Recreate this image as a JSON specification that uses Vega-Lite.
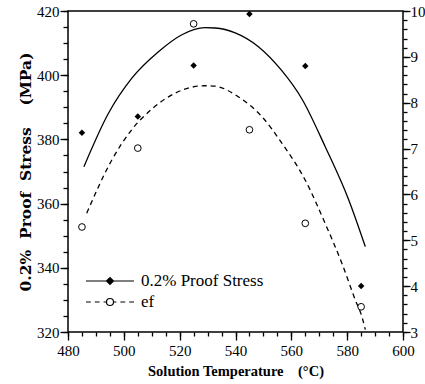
{
  "$schema": "https://vega.github.io/schema/vega-lite/v6.json",
  "width": 335,
  "height": 321,
  "autosize": {"type": "none"},
  "padding": {"left": 68, "top": 11, "right": 22, "bottom": 52},
  "background": "white",
  "config": {
    "view": {"stroke": "black", "strokeWidth": 1.5},
    "axis": {
      "grid": false,
      "domain": false,
      "ticks": true,
      "tickColor": "black",
      "tickWidth": 1.3,
      "labelColor": "black",
      "labelFont": "Liberation Serif",
      "labelFontSize": 15,
      "titleColor": "black",
      "titleFont": "Liberation Serif",
      "titleFontWeight": "bold"
    }
  },
  "datasets": {
    "stress_pts": [
      {"T": 485, "S": 382.1, "series": "0.2% Proof Stress"},
      {"T": 505, "S": 387.1, "series": "0.2% Proof Stress"},
      {"T": 525, "S": 403.0, "series": "0.2% Proof Stress"},
      {"T": 545, "S": 419.1, "series": "0.2% Proof Stress"},
      {"T": 565, "S": 402.9, "series": "0.2% Proof Stress"},
      {"T": 585, "S": 334.3, "series": "0.2% Proof Stress"}
    ],
    "ef_pts": [
      {"T": 485, "e": 5.29, "series": "ef"},
      {"T": 505, "e": 7.01, "series": "ef"},
      {"T": 525, "e": 9.72, "series": "ef"},
      {"T": 545, "e": 7.41, "series": "ef"},
      {"T": 565, "e": 5.37, "series": "ef"},
      {"T": 585, "e": 3.55, "series": "ef"}
    ],
    "stress_fit": [
      {"T": 485.7, "S": 371.5},
      {"T": 494.4, "S": 388.0},
      {"T": 502.8, "S": 399.0},
      {"T": 512.4, "S": 407.3},
      {"T": 520.8, "S": 412.6},
      {"T": 529.1, "S": 414.8},
      {"T": 532.7, "S": 414.7},
      {"T": 539.9, "S": 413.2},
      {"T": 548.2, "S": 408.9},
      {"T": 556.6, "S": 401.4},
      {"T": 563.8, "S": 392.6},
      {"T": 572.1, "S": 377.8},
      {"T": 580.5, "S": 361.3},
      {"T": 586.5, "S": 346.6}
    ],
    "ef_fit": [
      {"T": 486.7, "e": 5.59},
      {"T": 495.7, "e": 6.75},
      {"T": 502.8, "e": 7.41},
      {"T": 510.0, "e": 7.86},
      {"T": 518.4, "e": 8.21},
      {"T": 529.1, "e": 8.37},
      {"T": 532.7, "e": 8.36},
      {"T": 541.0, "e": 8.13},
      {"T": 549.4, "e": 7.70},
      {"T": 556.6, "e": 7.12},
      {"T": 565.0, "e": 6.31},
      {"T": 572.1, "e": 5.37},
      {"T": 578.1, "e": 4.50},
      {"T": 582.9, "e": 3.70},
      {"T": 585.3, "e": 3.33},
      {"T": 586.5, "e": 3.05}
    ]
  },
  "layer": [
    {
      "data": {"name": "stress_fit"},
      "mark": {"type": "line", "color": "black", "strokeWidth": 1.3, "interpolate": "monotone"},
      "encoding": {
        "x": {
          "field": "T", "type": "quantitative", "scale": {"domain": [480, 600], "nice": false},
          "axis": {
            "orient": "bottom",
            "values": [480, 500, 520, 540, 560, 580, 600],
            "tickSize": 8,
            "labelPadding": 3,
            "labelFlush": false,
            "title": "Solution Temperature\u00a0\u00a0\u00a0\u00a0(°C)",
            "titleFontSize": 14.5,
            "titlePadding": 6
          }
        },
        "y": {
          "field": "S", "type": "quantitative", "scale": {"domain": [320, 420], "nice": false, "zero": false},
          "axis": {
            "orient": "left",
            "values": [320, 340, 360, 380, 400, 420],
            "tickSize": 8,
            "labelPadding": 1,
            "labelFlush": false,
            "title": "0.2%\u00a0\u00a0Proof\u00a0\u00a0Stress\u00a0\u00a0\u00a0\u00a0(MPa)",
            "titleFont": "DejaVu Serif",
            "titleFontSize": 15.5,
            "titlePadding": 3
          }
        }
      }
    },
    {
      "data": {"name": "ef_fit"},
      "mark": {"type": "line", "color": "black", "strokeWidth": 1.3, "strokeDash": [5, 4], "interpolate": "monotone"},
      "encoding": {
        "x": {"field": "T", "type": "quantitative", "scale": {"domain": [480, 600], "nice": false}, "axis": null},
        "y": {
          "field": "e", "type": "quantitative", "scale": {"domain": [3, 10], "nice": false, "zero": false},
          "axis": {
            "orient": "right",
            "values": [3, 4, 5, 6, 7, 8, 9, 10],
            "tickSize": 7,
            "labelPadding": 0,
            "labelFlush": false,
            "title": null
          }
        }
      }
    },
    {
      "data": {"name": "stress_pts"},
      "mark": {"type": "point", "shape": "diamond", "filled": true, "color": "black", "size": 42, "opacity": 1},
      "encoding": {
        "x": {
          "field": "T", "type": "quantitative", "scale": {"domain": [480, 600], "nice": false},
          "axis": {
            "orient": "bottom",
            "values": [480,485,490,495,500,505,510,515,520,525,530,535,540,545,550,555,560,565,570,575,580,585,590,595,600],
            "tickSize": 4,
            "labels": false,
            "title": null
          }
        },
        "y": {
          "field": "S", "type": "quantitative", "scale": {"domain": [320, 420], "nice": false, "zero": false},
          "axis": {
            "orient": "left",
            "values": [320,325,330,335,340,345,350,355,360,365,370,375,380,385,390,395,400,405,410,415,420],
            "tickSize": 5,
            "labels": false,
            "title": null
          }
        }
      }
    },
    {
      "data": {"name": "ef_pts"},
      "mark": {"type": "point", "shape": "circle", "filled": true, "fill": "white", "stroke": "black", "strokeWidth": 1, "size": 45, "opacity": 1},
      "encoding": {
        "x": {"field": "T", "type": "quantitative", "scale": {"domain": [480, 600], "nice": false}, "axis": null},
        "y": {
          "field": "e", "type": "quantitative", "scale": {"domain": [3, 10], "nice": false, "zero": false},
          "axis": {
            "orient": "right",
            "values": [3,3.2,3.4,3.6,3.8,4,4.2,4.4,4.6,4.8,5,5.2,5.4,5.6,5.8,6,6.2,6.4,6.6,6.8,7,7.2,7.4,7.6,7.8,8,8.2,8.4,8.6,8.8,9,9.2,9.4,9.6,9.8,10],
            "tickSize": 4,
            "labels": false,
            "title": null
          }
        }
      }
    },
    {
      "data": {"name": "stress_pts"},
      "mark": {"type": "point", "filled": false, "color": "black", "strokeWidth": 1.2, "opacity": 0},
      "encoding": {
        "x": {"field": "T", "type": "quantitative", "scale": {"domain": [480, 600], "nice": false}, "axis": null},
        "y": {"field": "S", "type": "quantitative", "scale": {"domain": [320, 420], "nice": false, "zero": false}, "axis": null},
        "shape": {
          "field": "series", "type": "nominal",
          "scale": {
            "domain": ["0.2% Proof Stress", "ef"],
            "range": [
              "M-5,0H1M-2.44,0L-2,-0.44L-1.56,0L-2,0.44ZM-2.22,0L-2,-0.22L-1.78,0L-2,0.22ZM-2.08,0H-1.92",
              "M-5,0H-4.4M-3.9,0H-3.3M-2.8,0H-2.44M-1.56,0H-1.2M-0.7,0H-0.1M0.4,0H1M-2.44,0A0.44,0.44 0 1 1 -1.56,0A0.44,0.44 0 1 1 -2.44,0"
            ]
          },
          "legend": {
            "title": null,
            "orient": "none",
            "legendX": 49,
            "legendY": 261,
            "padding": 0,
            "symbolSize": 256,
            "symbolOpacity": 1,
            "symbolStrokeWidth": 1.2,
            "symbolStrokeColor": "black",
            "symbolFillColor": "transparent",
            "labelFont": "Liberation Serif",
            "labelFontSize": 17,
            "labelColor": "black",
            "labelOffset": 6,
            "rowPadding": 4
          }
        }
      }
    }
  ],
  "resolve": {"scale": {"x": "independent", "y": "independent"}}
}
